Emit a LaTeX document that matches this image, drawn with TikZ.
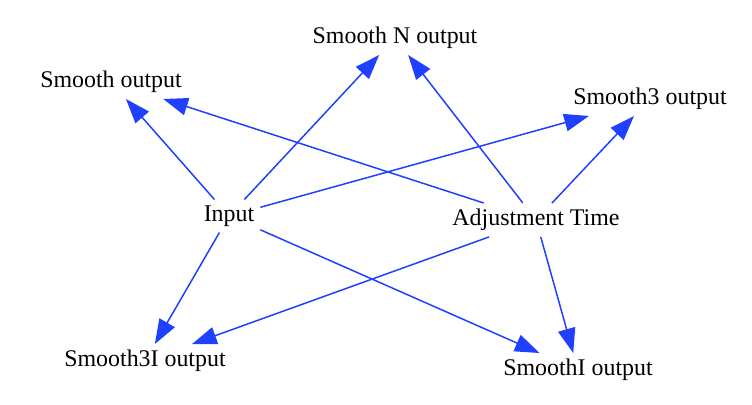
\documentclass[tikz,border=0pt]{standalone}
\usepackage{fontspec}
\setmainfont{Liberation Serif}
\usepackage{tikz}
\usetikzlibrary{arrows.meta, positioning}
\definecolor{edgeblue}{RGB}{31,64,255}

\begin{document}
\begin{tikzpicture}[>={Triangle[length=14pt, width=10pt]}, line width=0.85pt,
    var/.style={rectangle, inner sep=3.5pt, outer sep=0pt, font=\fontsize{13.6}{16}\selectfont},
    flow/.style={->, draw=edgeblue, fill=edgeblue}]
    \useasboundingbox (0,0) rectangle (15.04,8.08);

    \node[var] (smoothN) at (7.90,7.32) {Smooth N output};
    \node[var] (smooth) at (2.22,6.44) {Smooth output};
    \node[var] (smooth3) at (13.00,6.10) {Smooth3 output};
    \node[var] (input) at (4.58,3.76) {Input};
    \node[var] (adjtime) at (10.72,3.68) {Adjustment Time};
    \node[var] (smooth3I) at (2.90,0.86) {Smooth3I output};
    \node[var] (smoothI) at (11.56,0.68) {SmoothI output};

    \draw[flow] (input) -- (smooth);
    \draw[flow] (input) -- (smoothN);
    \draw[flow] (input) -- (smooth3);
    \draw[flow] (input) -- (smooth3I);
    \draw[flow] (input) -- (smoothI);
    \draw[flow] (adjtime) -- (smooth);
    \draw[flow] (adjtime) -- (smoothN);
    \draw[flow] (adjtime) -- (smooth3);
    \draw[flow] (adjtime) -- (smooth3I);
    \draw[flow] (adjtime) -- (smoothI);
\end{tikzpicture}
\end{document}
